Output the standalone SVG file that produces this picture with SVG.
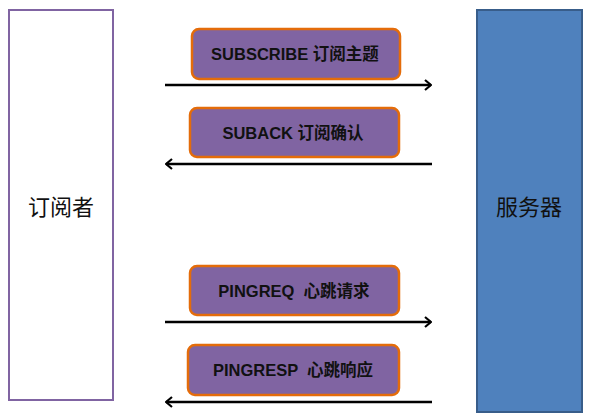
<svg xmlns="http://www.w3.org/2000/svg" width="589" height="415" viewBox="0 0 589 415">
<style>
.msg rect{fill:#8064A2;stroke:#E46C0A;stroke-width:2.5}
.msg text{font-family:"Liberation Sans","Noto Sans CJK SC",sans-serif;font-size:16.5px;font-weight:bold;fill:#111;text-anchor:middle;white-space:pre}
.lbl{font-family:"Noto Sans CJK SC","Liberation Sans",sans-serif;font-size:22px;fill:#111;text-anchor:middle}
.conn line{stroke:#000;stroke-width:2.5;fill:none}
</style>
<defs>
<marker id="ah" viewBox="0 0 12 12" refX="11" refY="6" markerWidth="12" markerHeight="12" orient="auto-start-reverse" markerUnits="userSpaceOnUse">
<polyline points="5,1 11,6 5,11" fill="none" stroke="#000" stroke-width="2.2"/>
</marker>
</defs>
<rect width="589" height="415" fill="#fff"/>
<g id="subscriber">
<rect x="9" y="10" width="104" height="390" fill="#fff" stroke="#8064A2" stroke-width="2"/>
<text class="lbl" x="61" y="215">订阅者</text>
</g>
<g id="server">
<rect x="477" y="10" width="105" height="402" fill="#4F81BD" stroke="#385D8A" stroke-width="2"/>
<text class="lbl" x="529" y="215">服务器</text>
</g>
<g id="m1" class="msg">
<rect x="192" y="29" width="208" height="50" rx="7"/>
<text x="295" y="60">SUBSCRIBE 订阅主题</text>
</g>
<g id="m2" class="msg">
<rect x="190" y="108" width="209" height="49" rx="7"/>
<text x="293" y="139">SUBACK 订阅确认</text>
</g>
<g id="m3" class="msg">
<rect x="190" y="266" width="209" height="49" rx="7"/>
<text x="294" y="297">PINGREQ  心跳请求</text>
</g>
<g id="m4" class="msg">
<rect x="188" y="345" width="211" height="50" rx="7"/>
<text x="293" y="376">PINGRESP  心跳响应</text>
</g>
<g id="connectors" class="conn">
<line x1="165" y1="85" x2="431" y2="85" marker-end="url(#ah)"/>
<line x1="432" y1="164" x2="166" y2="164" marker-end="url(#ah)"/>
<line x1="165" y1="322" x2="431" y2="322" marker-end="url(#ah)"/>
<line x1="432" y1="402" x2="166" y2="402" marker-end="url(#ah)"/>
</g>
</svg>
